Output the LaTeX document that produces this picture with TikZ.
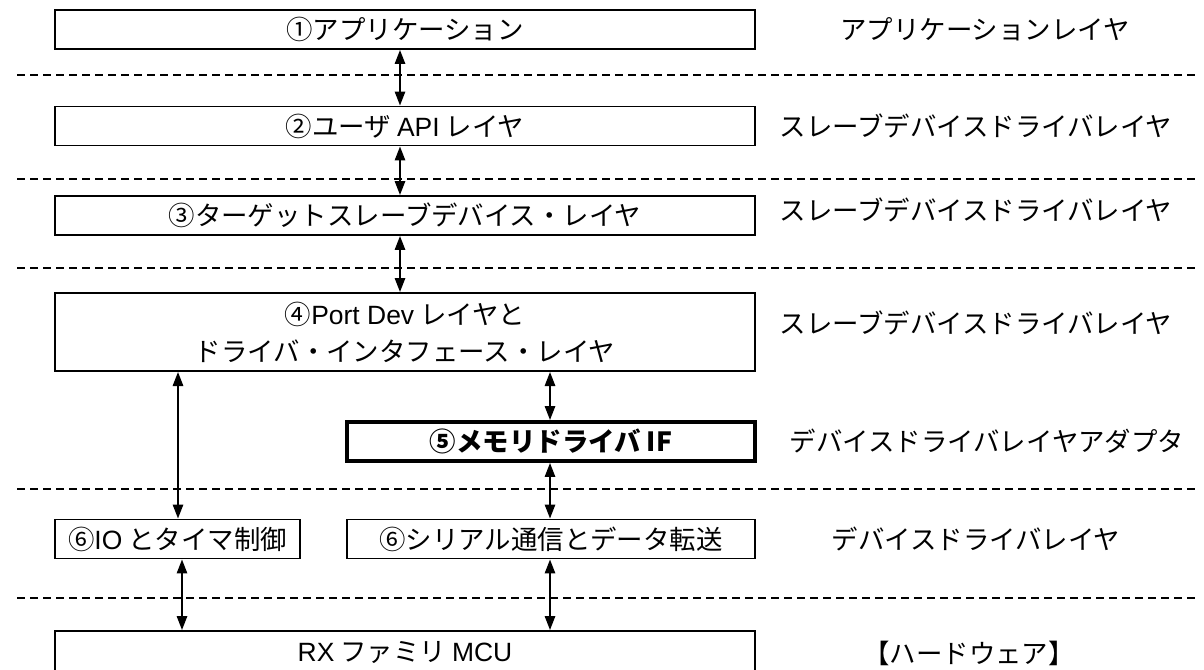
\documentclass[tikz,border=0pt]{standalone}
\usepackage{fontspec}
\setmainfont{Noto Sans CJK JP}
\newfontfamily\lat{Liberation Sans}
\usetikzlibrary{arrows.meta}
\usetikzlibrary{positioning}

\tikzset{
	layer/.style={draw, line width=1.4pt, inner sep=0pt, minimum height=0.975cm},
	wide/.style={layer, minimum width=17.5cm},
	half/.style={layer, minimum width=10.2cm},
	sep/.style={line width=1.3pt, dash pattern=on 0.2cm off 0.125cm},
	dbl/.style={{Triangle[length=0.35cm,width=0.26cm]}-{Triangle[length=0.35cm,width=0.26cm]}, line width=1.2pt},
	side/.style={inner sep=0pt}
}

\begin{document}
\begin{tikzpicture}[x=0.025cm, y=-0.025cm, font=\fontsize{18.8}{26.2}\selectfont]
				\useasboundingbox (0,0) rectangle (1204,670);
				% layer separators
				\foreach \y in {75,179,268,489,598}
					\draw[sep] (17,\y) -- (1195,\y);
				
				% layer boxes
				\node[wide] (app) at (405,29.5) {①アプリケーション};
				\node[wide] (api) at (405,126) {②ユーザ {\lat API} レイヤ};
				\node[wide] (tgt) at (405,215.5) {③ターゲットスレーブデバイス・レイヤ};
				\node[wide, minimum height=1.95cm, align=center] (port) at (405,332) {④{\lat Port Dev} レイヤと\\ドライバ・インタフェース・レイヤ};
				\node[half, line width=2.8pt, font=\fontsize{18.8}{26.2}\selectfont\bfseries] (memif) at (551,441.5) {⑤メモリドライバ IF};
				\node[layer, minimum width=6.125cm] (iotim) at (177.5,539) {⑥{\lat IO} とタイマ制御};
				\node[half] (serial) at (551,539) {⑥シリアル通信とデータ転送};
				\node[wide, minimum height=1.1cm] (mcu) at (405,653) {{\lat RX} ファミリ {\lat MCU}};
				
				% layer names
				\node[side] (napp) at (985,29.5) {アプリケーションレイヤ};
				\node[side] (napi) at (976,126) {スレーブデバイスドライバレイヤ};
				\node[side] (ntgt) at (976,210) {スレーブデバイスドライバレイヤ};
				\node[side] (nport) at (976,323) {スレーブデバイスドライバレイヤ};
				\node[side] (nmem) at (987,441) {デバイスドライバレイヤアダプタ};
				\node[side] (ndrv) at (976,539) {デバイスドライバレイヤ};
				\node[side] (nhw) at (969,653) {【ハードウェア】};
				
				% add arrows
				\coordinate (cm) at (400,0);
				\coordinate (cl) at (178,0);
				\coordinate (cl2) at (182,0);
				\coordinate (cr) at (550,0);
				\draw[dbl] (app.south -| cm) -- (api.north -| cm);
				\draw[dbl] (api.south -| cm) -- (tgt.north -| cm);
				\draw[dbl] (tgt.south -| cm) -- (port.north -| cm);
				\draw[dbl] (port.south -| cl) -- (iotim.north -| cl);
				\draw[dbl] (port.south -| cr) -- (memif.north -| cr);
				\draw[dbl] (memif.south -| cr) -- (serial.north -| cr);
				\draw[dbl] (iotim.south -| cl2) -- (mcu.north -| cl2);
				\draw[dbl] (serial.south -| cr) -- (mcu.north -| cr);
			\end{tikzpicture}
\end{document}
